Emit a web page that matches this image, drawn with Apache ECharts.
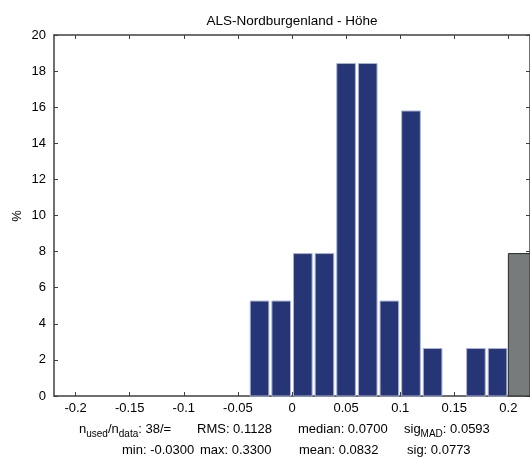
<!DOCTYPE html>
<html>
<head>
<meta charset="utf-8">
<script src="https://cdn.jsdelivr.net/npm/echarts@6/dist/echarts.min.js"></script>
<style>html,body{margin:0;padding:0;background:#fff}#c{width:530px;height:458px}</style>
</head>
<body>
<div id="c"></div>
<script>
// Data
var titleText = 'ALS-Nordburgenland - Höhe';
var yName = '%';
var binCenters = [-0.03, -0.01, 0.01, 0.03, 0.05, 0.07, 0.09, 0.11, 0.13, 0.15, 0.17, 0.19];
var binPercent = [5.26, 5.26, 7.89, 7.89, 18.42, 18.42, 5.26, 15.79, 2.63, 0, 2.63, 2.63];
var overflowCenters = [0.21];
var overflowPercent = [7.89];
var binWidth = 0.02;
var xTicks = [-0.2, -0.15, -0.1, -0.05, 0, 0.05, 0.1, 0.15, 0.2];
var xMin = -0.22, xMax = 0.22;
var yMin = 0, yMax = 20, yStep = 2;
// stats text segments: [main, subscript, main, subscript, main]
var statN = ['n', 'used', '/n', 'data', ': 38/='];
var statRMS = 'RMS: 0.1128';
var statMedian = 'median: 0.0700';
var statSigMad = ['sig', 'MAD', ': 0.0593'];
var statMin = 'min: -0.0300';
var statMax = 'max: 0.3300';
var statMean = 'mean: 0.0832';
var statSig = 'sig: 0.0773';

var font = 'Liberation Sans, Arial, sans-serif';
var axisColor = '#404040';
var fs = 13;

function makeRender(fill, stroke, frac) {
  return function (params, api) {
    var c = api.value(0), v = api.value(1);
    var half = binWidth * frac / 2;
    var p0 = api.coord([c - half, v]);
    var p1 = api.coord([c + half, 0]);
    return {
      type: 'rect',
      shape: { x: p0[0], y: p0[1], width: p1[0] - p0[0], height: p1[1] - p0[1] },
      style: { fill: fill, stroke: stroke, lineWidth: 1 }
    };
  };
}

var mainData = binCenters.map(function (c, i) { return [c, binPercent[i]]; }).filter(function (d) { return d[1] > 0; });
var ovData = overflowCenters.map(function (c, i) { return [c, overflowPercent[i]]; });

var richStyles = {
  t: { fontFamily: font, fontSize: fs, color: '#000', lineHeight: 18, verticalAlign: 'top' },
  s: { fontFamily: font, fontSize: 10, color: '#000', lineHeight: 18, verticalAlign: 'top', padding: [6, 0, 0, 0] }
};
function subText(parts) {
  var out = '';
  parts.forEach(function (p, i) { out += '{' + (i % 2 ? 's' : 't') + '|' + p + '}'; });
  return out;
}
function plainText(x, y, s) {
  return { type: 'text', left: x, top: y, style: { text: s, fontFamily: font, fontSize: fs, fill: '#000' } };
}

var chart = echarts.init(document.getElementById('c'), null, { renderer: 'canvas' });
var tickStyle = { show: true, inside: true, length: 4, lineStyle: { color: axisColor, width: 1 } };
var y1 = 423, y2 = 444;
chart.setOption({
  animation: false,
  grid: { left: 54, right: -3, top: 35, bottom: 62 },
  title: {
    text: titleText, left: 287, top: 9, textAlign: 'center',
    textStyle: { fontFamily: font, fontSize: 13.5, fontWeight: 'normal', color: '#000' }
  },
  xAxis: [{
    type: 'value', min: xMin, max: xMax, position: 'bottom',
    axisLine: { show: true, onZero: false, lineStyle: { color: axisColor, width: 1.5 } },
    axisTick: Object.assign({ customValues: xTicks }, tickStyle),
    axisLabel: { customValues: xTicks, fontFamily: font, fontSize: fs, color: '#000', margin: 6,
      formatter: function (v) { return String(+v.toFixed(2)); } },
    splitLine: { show: false }
  }, {
    type: 'value', min: xMin, max: xMax, position: 'top',
    axisLine: { show: true, onZero: false, lineStyle: { color: axisColor, width: 1.5 } },
    axisTick: Object.assign({ customValues: xTicks }, tickStyle),
    axisLabel: { show: false },
    splitLine: { show: false }
  }],
  yAxis: [{
    type: 'value', min: yMin, max: yMax, interval: yStep, position: 'left',
    axisLine: { show: true, onZero: false, lineStyle: { color: axisColor, width: 1.5 } },
    axisTick: tickStyle,
    axisLabel: { fontFamily: font, fontSize: fs, color: '#000', margin: 8 },
    splitLine: { show: false }
  }, {
    type: 'value', min: yMin, max: yMax, interval: yStep, position: 'right',
    axisLine: { show: true, onZero: false, lineStyle: { color: axisColor, width: 1.5 } },
    axisTick: tickStyle,
    axisLabel: { show: false },
    splitLine: { show: false }
  }],
  series: [{
    type: 'custom', xAxisIndex: 0, yAxisIndex: 0,
    renderItem: makeRender('#253575', '#aab2d6', 0.86),
    data: mainData, z: 1
  }, {
    type: 'custom', xAxisIndex: 0, yAxisIndex: 0,
    renderItem: makeRender('#777b7b', '#2a2a2a', 1.0),
    data: ovData, z: 1
  }],
  graphic: [
    { type: 'text', x: 17, y: 216, rotation: Math.PI / 2,
      style: { text: yName, fontFamily: font, fontSize: fs, fill: '#000', align: 'center', verticalAlign: 'middle' } },
    { type: 'text', left: 79, top: y1, style: { text: subText(statN), rich: richStyles } },
    plainText(197, y1, statRMS),
    plainText(298, y1, statMedian),
    { type: 'text', left: 404, top: y1, style: { text: subText(statSigMad), rich: richStyles } },
    plainText(122, y2, statMin),
    plainText(200, y2, statMax),
    plainText(299, y2, statMean),
    plainText(407, y2, statSig)
  ]
});
</script>
</body>
</html>
